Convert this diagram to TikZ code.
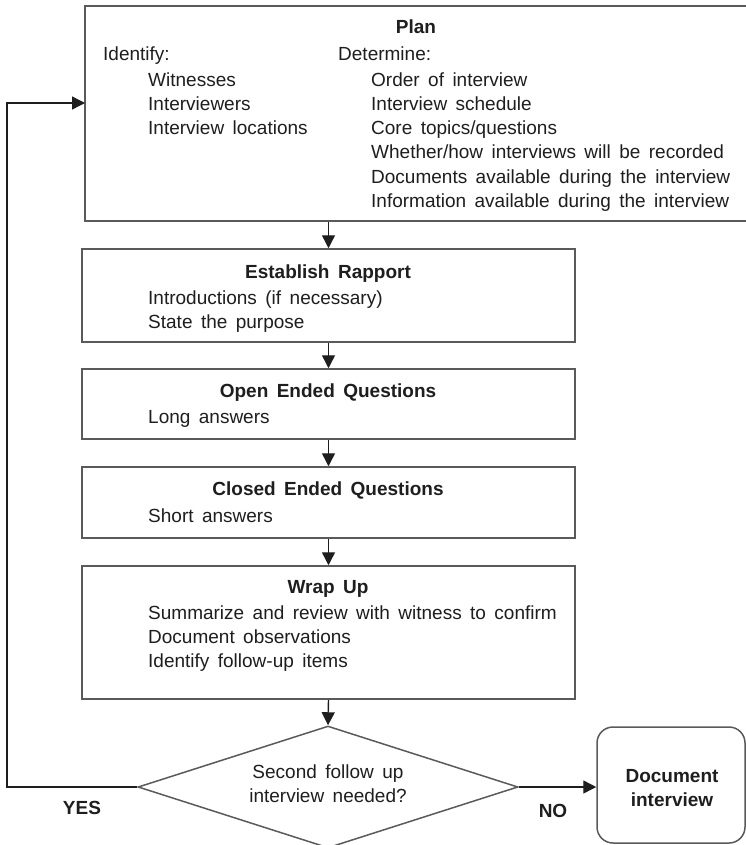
\documentclass[tikz,border=0pt]{standalone}
\usepackage{fontspec}
\setmainfont{Liberation Sans}[WordSpace=1.6]
\usetikzlibrary{arrows.meta,shapes.geometric}
\definecolor{ink}{HTML}{1E1E1E}
\definecolor{edge}{HTML}{5A5A5A}
\begin{document}
\begin{tikzpicture}[x=1pt,y=-1pt,
  font=\fontsize{19pt}{24pt}\selectfont,
  box/.style={draw=edge,line width=1.5pt,rectangle,inner sep=0pt,fill=white},
  title/.style={anchor=base,font=\fontsize{19pt}{24pt}\selectfont\bfseries,text=ink,inner sep=0pt},
  item/.style={anchor=base west,text=ink,inner sep=0pt},
  flow/.style={draw=ink,line width=1.4pt,-{Triangle[length=13pt,width=13pt]}},
  line/.style={draw=ink,line width=1.4pt}]
\useasboundingbox (0,0) rectangle (746,845);

% process boxes
\node[box,minimum width=662pt,minimum height=215pt] (plan) at (416,113.5) {};
\node[box,minimum width=493pt,minimum height=93pt] (rapport) at (328.5,295.5) {};
\node[box,minimum width=493pt,minimum height=70pt] (open) at (328.5,404) {};
\node[box,minimum width=493pt,minimum height=71pt] (closed) at (328.5,502.5) {};
\node[box,minimum width=493pt,minimum height=133pt] (wrap) at (328.5,632.5) {};

% decision and end
\node[draw=edge,line width=1.5pt,diamond,inner sep=0pt,minimum width=380pt,minimum height=122pt] (dec) at (328,787) {};
\node[draw=edge,line width=1.5pt,rectangle,rounded corners=16pt,minimum width=148pt,minimum height=116pt,inner sep=0pt] (doc) at (671,785) {};

% Plan
\node[title] (tplan) at (416,34) {Plan};
\node[item] (ident) at (103,61) {Identify:};
\node[item] (i1) at (148,87) {Witnesses};
\node[item] (i2) at (148,111) {Interviewers};
\node[item] (i3) at (148,135) {Interview locations};
\node[item] (det) at (338,61) {Determine:};
\node[item] (d1) at (371,87) {Order of interview};
\node[item] (d2) at (371,111) {Interview schedule};
\node[item] (d3) at (371,135) {Core topics/questions};
\node[item] (d4) at (371,159) {Whether/how interviews will be recorded};
\node[item] (d5) at (371,183) {Documents available during the interview};
\node[item] (d6) at (371,207) {Information available during the interview};

% Establish Rapport
\node[title] (trap) at (328,278) {Establish Rapport};
\node[item] (r1) at (148,304) {Introductions (if necessary)};
\node[item] (r2) at (148,328) {State the purpose};

% Open Ended Questions
\node[title] (topen) at (328,397) {Open Ended Questions};
\node[item] (o1) at (148,423) {Long answers};

% Closed Ended Questions
\node[title] (tclosed) at (328,495) {Closed Ended Questions};
\node[item] (c1) at (148,522) {Short answers};

% Wrap Up
\node[title] (twrap) at (328,593) {Wrap Up};
\node[item] (w1) at (148,619) {Summarize and review with witness to confirm};
\node[item] (w2) at (148,643) {Document observations};
\node[item] (w3) at (148,667) {Identify follow-up items};

% decision text, end text, branch labels
\node[anchor=base,text=ink,inner sep=0pt] (q1) at (328,778) {Second follow up};
\node[anchor=base,text=ink,inner sep=0pt] (q2) at (328,802) {interview needed?};
\node[title] (e1) at (672,782) {Document};
\node[title] (e2) at (672,806) {interview};
\node[title] (yes) at (82,814) {YES};
\node[title] (no) at (553,817) {NO};

% connectors
\draw[flow] (rapport.north |- plan.south) -- (rapport.north);
\draw[flow] (rapport.south) -- (open.north);
\draw[flow] (open.south) -- (closed.north);
\draw[flow] (closed.south) -- (wrap.north);
\draw[flow] (wrap.south) -- (dec.north);
\draw[flow] (dec.east) -- (doc.west |- dec.east);
\coordinate (loop) at (7,787);
\coordinate (planin) at (85,103);
\draw[flow] (dec.west) -- (loop) |- (planin);
\end{tikzpicture}
\end{document}
